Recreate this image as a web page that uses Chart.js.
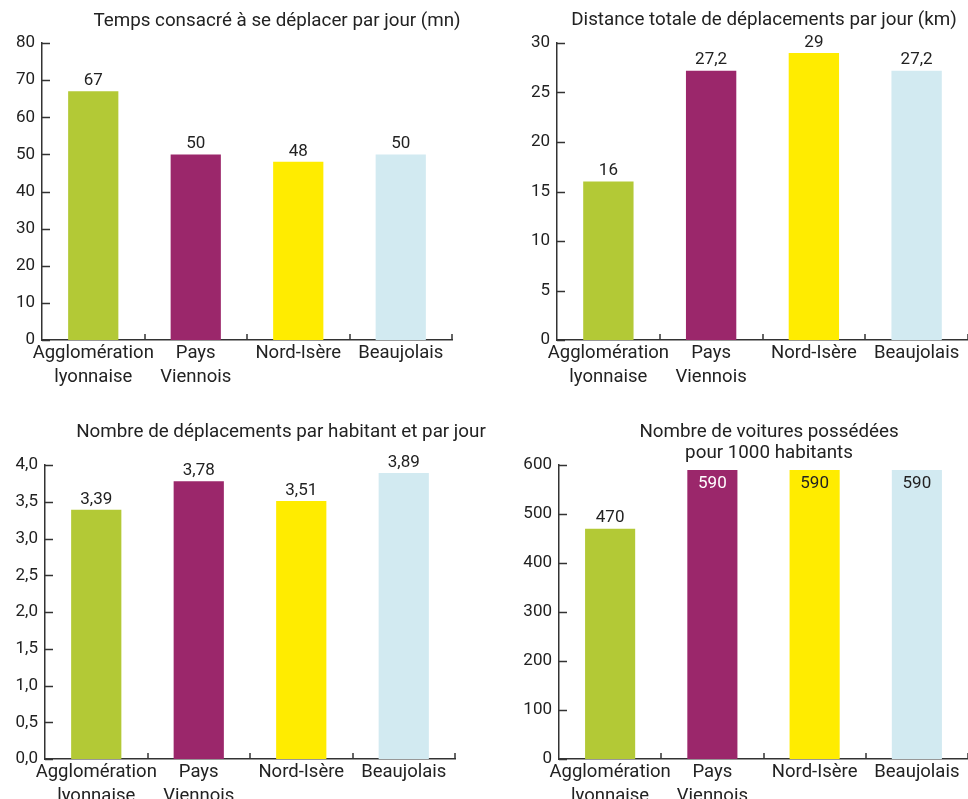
<!DOCTYPE html>
<html><head><meta charset="utf-8">
<script src="https://cdn.jsdelivr.net/npm/chart.js@4.4.0/dist/chart.umd.min.js"></script>
<style>
html,body{margin:0;padding:0;background:#fff;width:968px;height:799px;overflow:hidden;}
.box{position:absolute;}
canvas{display:block;}
</style></head><body>
<div class="box" style="left:0;top:0;width:484px;height:400px"><canvas id="c1" width="484" height="400"></canvas></div>
<div class="box" style="left:484px;top:0;width:484px;height:400px"><canvas id="c2" width="484" height="400"></canvas></div>
<div class="box" style="left:0;top:400px;width:510px;height:399px"><canvas id="c3" width="510" height="399"></canvas></div>
<div class="box" style="left:484px;top:400px;width:484px;height:399px"><canvas id="c4" width="484" height="399"></canvas></div>
<script>
// ---- data ----
const categories = [["Agglomération", "lyonnaise"], ["Pays", "Viennois"], "Nord-Isère", "Beaujolais"];
const barColors = ["#b3c936", "#9b276b", "#ffec00", "#d2eaf1"];
const insideLabelColors = ["#222222", "#ffffff", "#222222", "#222222"];

const tempsTitle = ["Temps consacré à se déplacer par jour (mn)"];
const tempsValues = [67, 50, 48, 50];
const tempsMax = 80, tempsStep = 10;

const distanceTitle = ["Distance totale de déplacements par jour (km)"];
const distanceValues = [16, 27.2, 29, 27.2];
const distanceMax = 30, distanceStep = 5;

const nbDeplTitle = ["Nombre de déplacements par habitant et par jour"];
const nbDeplValues = [3.39, 3.78, 3.51, 3.89];
const nbDeplMax = 4, nbDeplStep = 0.5;

const voituresTitle = ["Nombre de voitures possédées", "pour 1000 habitants"];
const voituresValues = [470, 590, 590, 590];
const voituresMax = 600, voituresStep = 100;

// ---- rendering ----
const FAMILY = "Roboto, 'DejaVu Sans', sans-serif";
Chart.defaults.font.family = FAMILY;
Chart.defaults.font.size = 17;
Chart.defaults.color = "#222";
const NUM_FONT = "17px " + FAMILY;
const TITLE_FONT = "18.8px " + FAMILY;

function fmt(v, dec) { return v.toFixed(dec).replace('.', ','); }
function fmtLabel(v) { return String(v).replace('.', ','); }

function makeChart(id, values, max, step, tickDec, title, geo) {
  const canvas = document.getElementById(id);
  const W = canvas.width, H = canvas.height;
  const deco = {
    id: 'deco' + id,
    afterDraw(chart) {
      const ctx = chart.ctx, a = chart.chartArea;
      const xs = chart.scales.x, ys = chart.scales.y;
      ctx.save();
      ctx.strokeStyle = "#333"; ctx.lineWidth = 1.5;
      // inward y ticks
      ys.ticks.forEach(t => {
        const py = Math.round(ys.getPixelForValue(t.value)) + 0.5;
        ctx.beginPath(); ctx.moveTo(a.left, py); ctx.lineTo(a.left + 8, py); ctx.stroke();
      });
      // x category boundary ticks
      for (let i = 0; i < values.length; i++) {
        const px = Math.round((xs.getPixelForValue(i) + xs.getPixelForValue(i + 1)) / 2);
        ctx.beginPath(); ctx.moveTo(px, a.bottom); ctx.lineTo(px, a.bottom - 6); ctx.stroke();
      }
      // value labels
      ctx.font = NUM_FONT; ctx.textAlign = "center";
      const meta = chart.getDatasetMeta(0);
      meta.data.forEach((bar, i) => {
        const txt = fmtLabel(values[i]);
        if (geo.insideAbove !== undefined && values[i] >= geo.insideAbove) {
          ctx.fillStyle = insideLabelColors[i]; ctx.textBaseline = "top";
          ctx.fillText(txt, bar.x, bar.y + 5);
        } else {
          ctx.fillStyle = "#222"; ctx.textBaseline = "bottom";
          ctx.fillText(txt, bar.x, bar.y - 2);
        }
      });
      // title
      ctx.font = TITLE_FONT;
      ctx.fillStyle = "#222"; ctx.textBaseline = "middle";
      title.forEach((line, k) => ctx.fillText(line, geo.titleX, geo.titleY + k * 21));
      ctx.restore();
    }
  };
  return new Chart(canvas, {
    type: 'bar',
    data: {
      labels: categories,
      datasets: [{ data: values, backgroundColor: barColors, borderWidth: 0,
        barPercentage: 0.49, categoryPercentage: 1 }]
    },
    options: {
      responsive: false, animation: false,
      layout: { padding: { left: 0, top: geo.top, right: W - geo.right, bottom: 0 } },
      plugins: { legend: { display: false }, tooltip: { enabled: false }, title: { display: false } },
      scales: {
        x: {
          offset: true,
          grid: { display: false, drawTicks: false },
          border: { display: true, color: "#333", width: 1.5 },
          ticks: { autoSkip: false, maxRotation: 0, minRotation: 0, padding: 1, color: "#222",
            font: { size: 18.5, lineHeight: 1.3 } },
          afterFit(s) { s.height = H - geo.bottom; }
        },
        y: {
          min: 0, max: max,
          grid: { display: false, drawTicks: false },
          border: { display: true, color: "#333", width: 1.5 },
          ticks: { stepSize: step, padding: 7, color: "#222",
            callback: v => fmt(v, tickDec) },
          afterFit(s) { s.width = geo.left; }
        }
      }
    },
    plugins: [deco]
  });
}

makeChart('c1', tempsValues, tempsMax, tempsStep, 0, tempsTitle,
  { left: 42, right: 452, top: 43, bottom: 340, titleX: 277, titleY: 21 });
makeChart('c2', distanceValues, distanceMax, distanceStep, 0, distanceTitle,
  { left: 73, right: 484, top: 43, bottom: 340, titleX: 280, titleY: 20 });
makeChart('c3', nbDeplValues, nbDeplMax, nbDeplStep, 1, nbDeplTitle,
  { left: 45, right: 455, top: 65, bottom: 359, titleX: 281, titleY: 32 });
makeChart('c4', voituresValues, voituresMax, voituresStep, 0, voituresTitle,
  { left: 75, right: 484, top: 65, bottom: 359, titleX: 285, titleY: 32, insideAbove: 580 });
</script>
</body></html>
